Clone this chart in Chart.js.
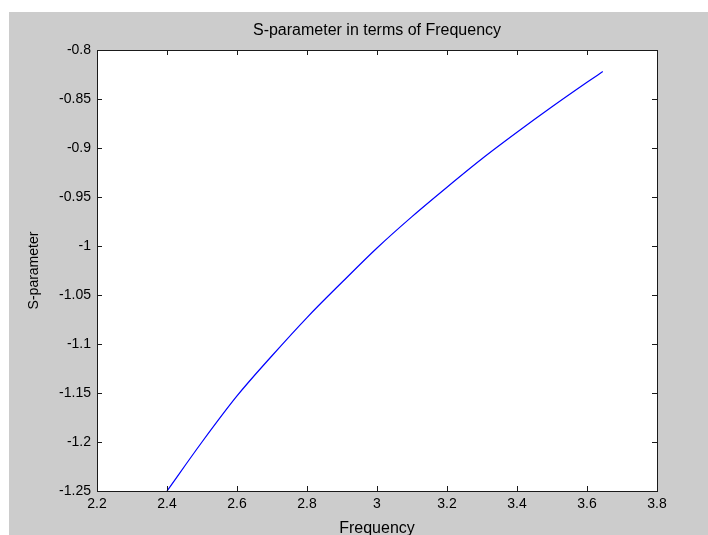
<!DOCTYPE html>
<html>
<head>
<meta charset="utf-8">
<script src="https://cdn.jsdelivr.net/npm/chart.js@4.4.1/dist/chart.umd.min.js"></script>
<style>
  html, body { margin: 0; padding: 0; background: #ffffff; }
</style>
</head>
<body>
<canvas id="sparam" width="708" height="535"></canvas>
<script>
// --------------------------- Donnees ---------------------------
const frequency = [2.4, 2.5, 2.6, 2.7, 2.8, 2.9, 3.0, 3.1, 3.2, 3.3, 3.4, 3.5, 3.6, 3.645];
const sParameter = [-1.25, -1.200, -1.153, -1.112, -1.073, -1.037, -1.002, -0.970, -0.940, -0.911, -0.884, -0.858, -0.833, -0.822];
const xTicks = [2.2, 2.4, 2.6, 2.8, 3.0, 3.2, 3.4, 3.6, 3.8];
const yTicks = [-1.25, -1.2, -1.15, -1.1, -1.05, -1, -0.95, -0.9, -0.85, -0.8];

const FONT = "'Liberation Sans', Arial, sans-serif";

// fond gris facon figure MATLAB + cadre blanc des axes
const figureBackground = {
    id: 'figureBackground',
    beforeDraw(chart) {
        const { ctx, chartArea } = chart;
        ctx.save();
        ctx.fillStyle = '#ffffff';
        ctx.fillRect(0, 0, chart.width, chart.height);
        ctx.fillStyle = '#cccccc';
        ctx.fillRect(9, 12, chart.width - 9, chart.height - 12);
        ctx.fillStyle = '#ffffff';
        ctx.fillRect(chartArea.left, chartArea.top, chartArea.right - chartArea.left, chartArea.bottom - chartArea.top);
        ctx.restore();
    }
};

// boite noire + graduations vers l'interieur sur les 4 cotes
const axesBox = {
    id: 'axesBox',
    afterDatasetsDraw(chart) {
        const { ctx, chartArea: a, scales } = chart;
        const len = 5;
        ctx.save();
        ctx.strokeStyle = '#1a1a1a';
        ctx.lineWidth = 1;
        ctx.beginPath();
        xTicks.forEach(v => {
            const px = Math.round(scales.x.getPixelForValue(v)) + 0.5;
            ctx.moveTo(px, a.bottom); ctx.lineTo(px, a.bottom - len);
            ctx.moveTo(px, a.top); ctx.lineTo(px, a.top + len);
        });
        yTicks.forEach(v => {
            const py = Math.round(scales.y.getPixelForValue(v)) + 0.5;
            ctx.moveTo(a.left, py); ctx.lineTo(a.left + len, py);
            ctx.moveTo(a.right, py); ctx.lineTo(a.right - len, py);
        });
        ctx.stroke();
        ctx.strokeRect(Math.round(a.left) + 0.5, Math.round(a.top) + 0.5,
            Math.round(a.right - a.left), Math.round(a.bottom - a.top));
        ctx.restore();
    }
};

function fmt(v) {
    return String(Number(v.toFixed(2)));
}

new Chart(document.getElementById('sparam'), {
    type: 'line',
    data: {
        datasets: [{
            label: 'S-parameter',
            data: frequency.map((f, i) => ({ x: f, y: sParameter[i] })),
            borderColor: '#0000ff',
            borderWidth: 1.2,
            pointRadius: 0,
            cubicInterpolationMode: 'monotone',
            fill: false
        }]
    },
    options: {
        responsive: false,
        devicePixelRatio: 1,
        animation: false,
        layout: { padding: { left: 0, right: 51, top: 0, bottom: 0 } },
        plugins: {
            legend: { display: false },
            tooltip: { enabled: false },
            title: {
                display: true,
                fullSize: false,
                text: 'S-parameter in terms of Frequency',
                color: '#000000',
                font: { family: FONT, size: 16, weight: 'normal' },
                padding: { top: 21, bottom: 9.8 }
            }
        },
        scales: {
            x: {
                type: 'linear',
                min: 2.2,
                max: 3.8,
                afterBuildTicks: s => { s.ticks = xTicks.map(v => ({ value: v })); },
                afterFit: s => { s.height = 44; },
                grid: { display: false, drawTicks: false },
                border: { display: false },
                ticks: {
                    color: '#000000',
                    font: { family: FONT, size: 14 },
                    padding: 5,
                    maxRotation: 0,
                    autoSkip: false,
                    callback: v => fmt(v)
                },
                title: {
                    display: true,
                    text: 'Frequency',
                    color: '#000000',
                    font: { family: FONT, size: 16, lineHeight: 0.8 },
                    padding: { top: 0, bottom: 0 }
                }
            },
            y: {
                min: -1.25,
                max: -0.8,
                afterBuildTicks: s => { s.ticks = yTicks.map(v => ({ value: v })); },
                afterFit: s => { s.width = 97; },
                grid: { display: false, drawTicks: false },
                border: { display: false },
                ticks: {
                    color: '#000000',
                    font: { family: FONT, size: 14 },
                    padding: 6,
                    autoSkip: false,
                    callback: v => fmt(v)
                },
                title: {
                    display: true,
                    text: 'S-parameter',
                    color: '#000000',
                    font: { family: FONT, size: 14 },
                    padding: { top: 26, bottom: 0 }
                }
            }
        }
    },
    plugins: [figureBackground, axesBox]
});
</script>
</body>
</html>
